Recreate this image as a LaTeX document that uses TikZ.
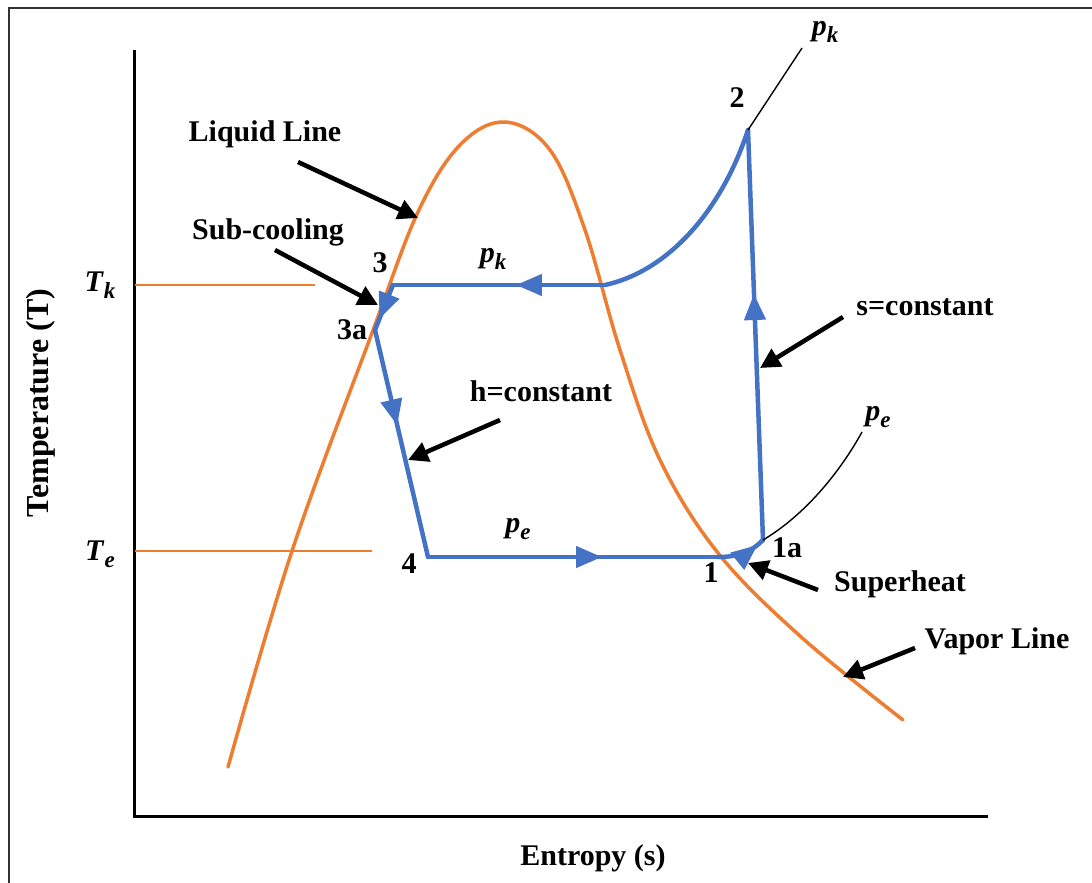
\documentclass[tikz,border=0pt]{standalone}
\usepackage{fontspec}
\setmainfont{Liberation Serif}
\usetikzlibrary{arrows.meta,decorations.markings}
\definecolor{Cblue}{RGB}{68,114,196}
\definecolor{Corange}{RGB}{237,125,49}
\tikzset{
  cyc/.style={draw=Cblue,line width=4.5pt,line cap=round,line join=round},
  dome/.style={draw=Corange,line width=3.5pt,line cap=round},
  pointer/.style={line width=4.5pt,-{Triangle[length=20pt,width=20pt]}},
  leader/.style={line width=1.4pt},
  lbl/.style={font=\fontsize{30}{33}\selectfont\bfseries,inner sep=1pt},
  midarrow/.style={postaction={decorate},decoration={markings,
    mark=at position #1 with {\arrow[Cblue]{Triangle[length=26pt,width=21pt]}}}}
}
\newcommand{\sym}[2]{\textit{#1}\raisebox{-0.22em}{\fontsize{23}{23}\selectfont\textit{#2}}}

\begin{document}
\begin{tikzpicture}[x=1pt,y=-1pt]
\path[use as bounding box] (0,0) rectangle (1092,883);
\draw[line width=1.5pt,black!80] (9,8) rectangle (1098,892);
% axes
\draw[line width=3pt] (134,50) -- (134,816) -- (988,816);
\draw[Corange,line width=1.8pt] (135,285) -- (315,285);
\draw[Corange,line width=1.8pt] (135,551) -- (372,551);
% saturation dome
\draw[dome] plot[smooth,tension=0.6] coordinates {(228,767) (292,551) (372,333)
  (418,212) (460,145) (505,122) (550,150) (585,230) (620,350) (660,460)
  (718,553) (800,636) (903,720)};
% cycle points
\coordinate (p1) at (718,557);
\coordinate (p1a) at (763,540);
\coordinate (p2) at (748,130);
\coordinate (p3) at (393,285);
\coordinate (p3a) at (375,330);
\coordinate (p4) at (428,557);
\coordinate (pv) at (605,285);
% refrigeration cycle
\draw[cyc] (pv) .. controls (665,272) and (720,215) .. (p2);
\draw[cyc,midarrow=0.42] (pv) -- (p3);
\draw[cyc,midarrow=0.75] (p3) -- (p3a);
\draw[cyc,midarrow=0.42] (p3a) -- (p4);
\draw[cyc,midarrow=0.6] (p4) -- (p1);
\draw[cyc,midarrow=0.85] (p1) .. controls (740,557) and (752,551) .. (p1a);
\draw[cyc,midarrow=0.6] (p1a) -- (p2);
% labels
\node[lbl] (lpk) at (825,32) {\sym{p}{k}};
\node[lbl] (l2) at (737,98) {2};
\node[lbl] (lliq) at (265,134) {Liquid Line};
\node[lbl] (lsub) at (268,232) {Sub-cooling};
\node[lbl] (l3) at (380,263) {3};
\node[lbl] (lpk2) at (493,259) {\sym{p}{k}};
\node[lbl] (l3a) at (352,330) {3a};
\node[lbl] (ltk) at (100,285) {\sym{T}{k}};
\node[lbl] (lscon) at (925,307) {s=constant};
\node[lbl] (lhcon) at (541,391) {h=constant};
\node[lbl] (lpe) at (878,417) {\sym{p}{e}};
\node[lbl] (lpe2) at (518,529) {\sym{p}{e}};
\node[lbl] (lte) at (100,554) {\sym{T}{e}};
\node[lbl] (l4) at (409,564) {4};
\node[lbl] (l1) at (711,573) {1};
\node[lbl] (l1a) at (787,548) {1a};
\node[lbl] (lsup) at (900,584) {Superheat};
\node[lbl] (lvap) at (997,641) {Vapor Line};
\node[lbl,rotate=90,font=\fontsize{32}{34}\selectfont\bfseries] (ltemp) at (41,403) {Temperature (T)};
\node[lbl] (lent) at (593,858) {Entropy (s)};
% pointers
\coordinate (aliq) at (298,162);
\coordinate (asub) at (275,250);
\coordinate (ahcon) at (500,420);
\coordinate (ascon) at (843,317);
\coordinate (asup) at (818,590);
\coordinate (avap) at (915,648);
\draw[pointer] (aliq) -- (418,218);
\draw[pointer] (asub) -- (378,305);
\draw[pointer] (ahcon) -- (408,460);
\draw[pointer] (ascon) -- (760,368);
\draw[pointer] (asup) -- (748,563);
\draw[pointer] (avap) -- (843,677);
% leaders
\draw[leader] (p2) -- (802,48);
\draw[leader] (p1a) .. controls (805,515) and (840,472) .. (862,432);
\end{tikzpicture}
\end{document}
